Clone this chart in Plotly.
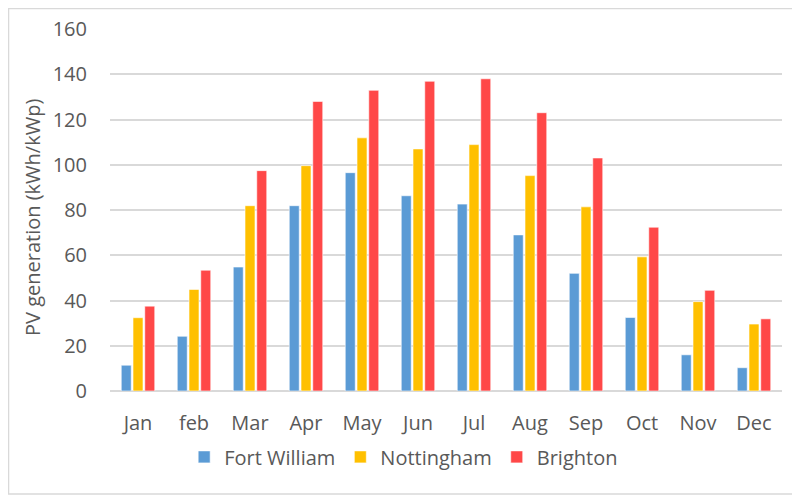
import plotly.graph_objects as go

months = ["Jan", "feb", "Mar", "Apr", "May", "Jun", "Jul", "Aug", "Sep", "Oct", "Nov", "Dec"]
fort_william = [11.4, 24.2, 54.8, 81.9, 96.5, 86.3, 82.6, 69.0, 52.0, 32.5, 16.0, 10.3]
nottingham = [32.4, 44.9, 81.9, 99.6, 111.9, 107.0, 108.9, 95.2, 81.4, 59.3, 39.5, 29.6]
brighton = [37.5, 53.4, 97.4, 128.0, 132.9, 136.9, 138.0, 123.0, 103.0, 72.4, 44.5, 31.9]

series = [
    ("Fort William", fort_william, "#5B9BD5"),
    ("Nottingham", nottingham, "#FFC000"),
    ("Brighton", brighton, "#FF4848"),
]

FONT = "Open Sans"
TXT = "#595959"
FS = 20

fig = go.Figure()
for name, vals, col in series:
    fig.add_trace(go.Bar(
        x=months, y=vals, name=name,
        marker=dict(color=col, line=dict(color="rgba(255,255,255,0.6)", width=1)),
    ))

fig.update_layout(
    width=792, height=487,
    margin=dict(l=102, r=18, t=21, b=104, autoexpand=False),
    paper_bgcolor="white", plot_bgcolor="white",
    barmode="group", bargap=0.37, bargroupgap=0.15,
    font=dict(family=FONT, size=FS, color=TXT),
    showlegend=True,
    legend=dict(orientation="h", x=0.437, xanchor="center", y=-0.182, yanchor="middle",
                font=dict(family=FONT, size=FS, color=TXT), itemwidth=30,
                bgcolor="rgba(0,0,0,0)"),
    xaxis=dict(showgrid=False, showline=False, ticks="", automargin=False,
               ticklabelstandoff=18, tickfont=dict(size=FS, color=TXT)),
    yaxis=dict(range=[0, 160], dtick=20, showgrid=True, gridcolor="#D9D9D9", gridwidth=1.5,
               zeroline=True, zerolinecolor="#D9D9D9", zerolinewidth=2, automargin=False,
               showline=False, ticks="", ticklabelstandoff=22,
               tickfont=dict(size=FS, color=TXT)),
    annotations=[dict(text="PV generation (kWh/kWp)", textangle=-90, showarrow=False,
                      xref="paper", yref="paper", x=-0.1146, y=0.4807,
                      xanchor="center", yanchor="middle",
                      font=dict(family=FONT, size=FS, color=TXT))],
    shapes=[dict(type="rect", xref="paper", yref="paper",
                 x0=-0.151, x1=1.039, y0=-0.2845, y1=1.0566,
                 line=dict(color="#D9D9D9", width=1.5), fillcolor="rgba(0,0,0,0)", layer="below")],
)

fig.write_html("out.html")
